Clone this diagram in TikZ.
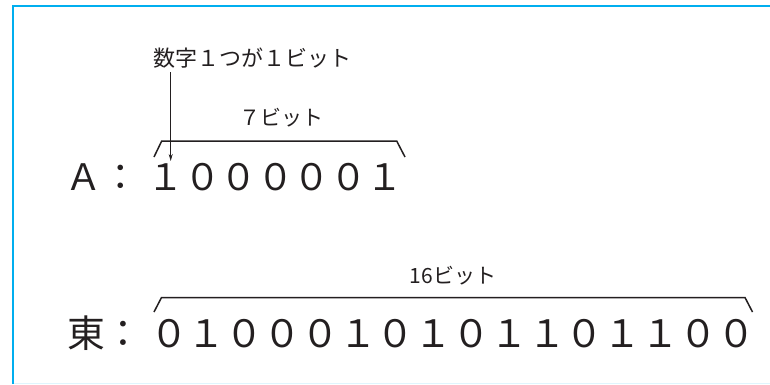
\documentclass[tikz,border=0pt]{standalone}
\usepackage{fontspec}
\newfontfamily\jp{Noto Sans CJK JP}
\usetikzlibrary{arrows.meta}
\definecolor{framecyan}{RGB}{0,174,239}
\definecolor{ink}{RGB}{35,31,32}
\tikzset{
  txt/.style={inner sep=0pt, outer sep=0pt, text=ink},
  bigtxt/.style={txt, anchor=base west},
  smalltxt/.style={txt, anchor=base, font=\jp\fontsize{21pt}{24pt}\selectfont},
  brace/.style={draw=ink, line width=1.5pt, line join=miter},
  pointer/.style={draw=ink, line width=0.8pt, -{Stealth[length=7pt,width=4pt]}},
  framedge/.style={draw=framecyan, line width=2.4pt}
}
\begin{document}
\begin{tikzpicture}[x=1pt,y=-1pt]
\useasboundingbox (0,0) rectangle (770,384);
\fill[white] (0,0) rectangle (770,384);
% frame
\draw[framedge] (13.2,384) -- (13.2,6) -- (770,6);
\draw[draw=framecyan!12, line width=1.2pt] (14,383.3) -- (770,383.3);

% row A
\node[bigtxt, font=\jp\fontsize{36.5pt}{40pt}\selectfont] (alabel) at (65.75,190) {Ａ：};
\node[bigtxt, font=\jp\fontsize{36.5pt}{40pt}\selectfont] (abits) at (147.75,190) {１０００００１};
\draw[brace] (154,157) -- (161.7,141) -- (396.7,141) -- (405,157);
\node[smalltxt] (seven) at (281.5,125) {７ビット};

% label with arrow
\node[smalltxt, font=\jp\fontsize{22pt}{24pt}\selectfont] (onebit) at (252.5,66) {数字１つが１ビット};
\coordinate (arrowstart) at (170.7,72);
\coordinate (arrowtip) at (170.7,161);
\draw[pointer] (arrowstart) -- (arrowtip);

% row 東
\node[bigtxt, font=\jp\fontsize{37.8pt}{40pt}\selectfont] (higashi) at (67.1,347) {東：};
\node[bigtxt, font=\jp\fontsize{37.8pt}{40pt}\selectfont] (hbits) at (150.1,347) {０１０００１０１０１１０１１００};
\draw[brace] (154,312) -- (161.5,297.5) -- (745,297.5) -- (752.5,312);
\node[smalltxt] (sixteen) at (453,283) {16ビット};
\end{tikzpicture}
\end{document}
